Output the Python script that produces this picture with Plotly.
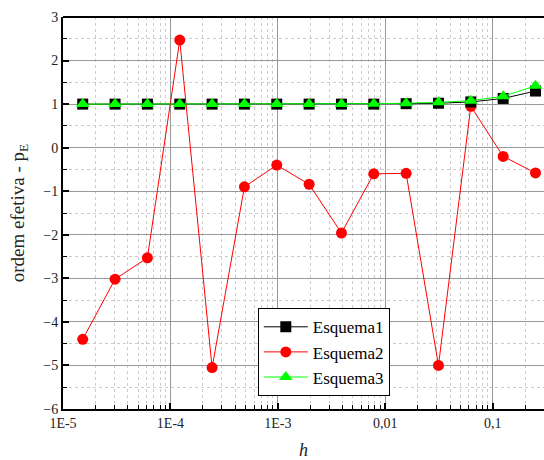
import plotly.graph_objects as go

# step sizes h = 2^-k, k = 16 .. 2
h = [2.0 ** -k for k in range(16, 1, -1)]

esquema1 = [1.0, 1.0, 1.0, 1.0, 1.0, 1.0, 1.0, 1.0, 1.0, 1.0, 1.01, 1.02, 1.05, 1.13, 1.30]
esquema2 = [-4.40, -3.02, -2.53, 2.47, -5.05, -0.90, -0.40, -0.84, -1.96, -0.60, -0.59, -5.00, 0.95, -0.20, -0.58]
esquema3 = [1.0, 1.0, 1.0, 1.0, 1.0, 1.0, 1.0, 1.0, 1.0, 1.01, 1.02, 1.04, 1.08, 1.18, 1.42]

x_tickvals = [1e-5, 1e-4, 1e-3, 1e-2, 1e-1]
x_ticktext = ["1E-5", "1E-4", "1E-3", "0,01", "0,1"]
y_tickvals = [3, 2, 1, 0, -1, -2, -3, -4, -5, -6]

# minor positions 2..9 within each decade
x_minor = [m * 10.0 ** e for e in range(-5, 0) for m in range(2, 10)]

serif = "Liberation Serif"

fig = go.Figure()
fig.add_trace(go.Scatter(
    x=h, y=esquema2, name="Esquema2", mode="lines+markers", legendrank=2,
    line=dict(color="#ff0000", width=1),
    marker=dict(symbol="circle", size=11, color="#ff0000"),
))
fig.add_trace(go.Scatter(
    x=h, y=esquema1, name="Esquema1", mode="lines+markers", legendrank=1,
    line=dict(color="#000000", width=1),
    marker=dict(symbol="square", size=11, color="#000000"),
))
fig.add_trace(go.Scatter(
    x=h, y=esquema3, name="Esquema3", mode="lines+markers", legendrank=3,
    line=dict(color="#00ff00", width=1),
    marker=dict(symbol="triangle-up", size=12, color="#00ff00"),
))

fig.update_layout(
    width=544, height=460,
    margin=dict(l=63, r=0, t=17, b=51),
    paper_bgcolor="white", plot_bgcolor="white",
    font=dict(family=serif, size=14, color="#222"),
    showlegend=True,
    legend=dict(
        x=0.405, y=0.257, xanchor="left", yanchor="top",
        bgcolor="white", bordercolor="black", borderwidth=1,
        font=dict(family=serif, size=17, color="black"),
        traceorder="normal", itemwidth=44, tracegroupgap=0,
    ),
)

fig.update_xaxes(
    type="log", range=[-5, -0.523],
    tickvals=x_tickvals, ticktext=x_ticktext,
    ticks="inside", ticklen=6, tickwidth=2, tickcolor="black",
    showline=True, linecolor="black", linewidth=2, mirror=False,
    showgrid=True, gridcolor="#999", gridwidth=1,
    minor=dict(tickvals=x_minor, ticks="inside", ticklen=4, tickcolor="black", tickwidth=1,
               showgrid=True, gridcolor="#ccc", griddash="dot", gridwidth=1),
    tickfont=dict(family=serif, size=14, color="#222"),
    title=dict(text="<i>h</i>", font=dict(family=serif, size=18, color="#222"), standoff=16),
    zeroline=False,
)
fig.update_yaxes(
    range=[-6, 3],
    tickvals=y_tickvals,
    ticks="inside", ticklen=6, tickwidth=2, tickcolor="black",
    showline=True, linecolor="black", linewidth=2, mirror=False,
    showgrid=True, gridcolor="#999", gridwidth=1,
    minor=dict(dtick=0.5, ticks="inside", ticklen=4, tickcolor="black", tickwidth=1,
               showgrid=True, gridcolor="#ccc", griddash="dot", gridwidth=1),
    tickfont=dict(family=serif, size=14, color="#222"),
    title=dict(text="ordem efetiva - p<sub>E</sub>", font=dict(family=serif, size=19, color="#222"), standoff=14),
    zeroline=False,
)

# top frame line
fig.add_shape(type="line", xref="paper", yref="paper", x0=0, x1=1, y0=1, y1=1,
              line=dict(color="black", width=2))

fig.write_html("out.html")
